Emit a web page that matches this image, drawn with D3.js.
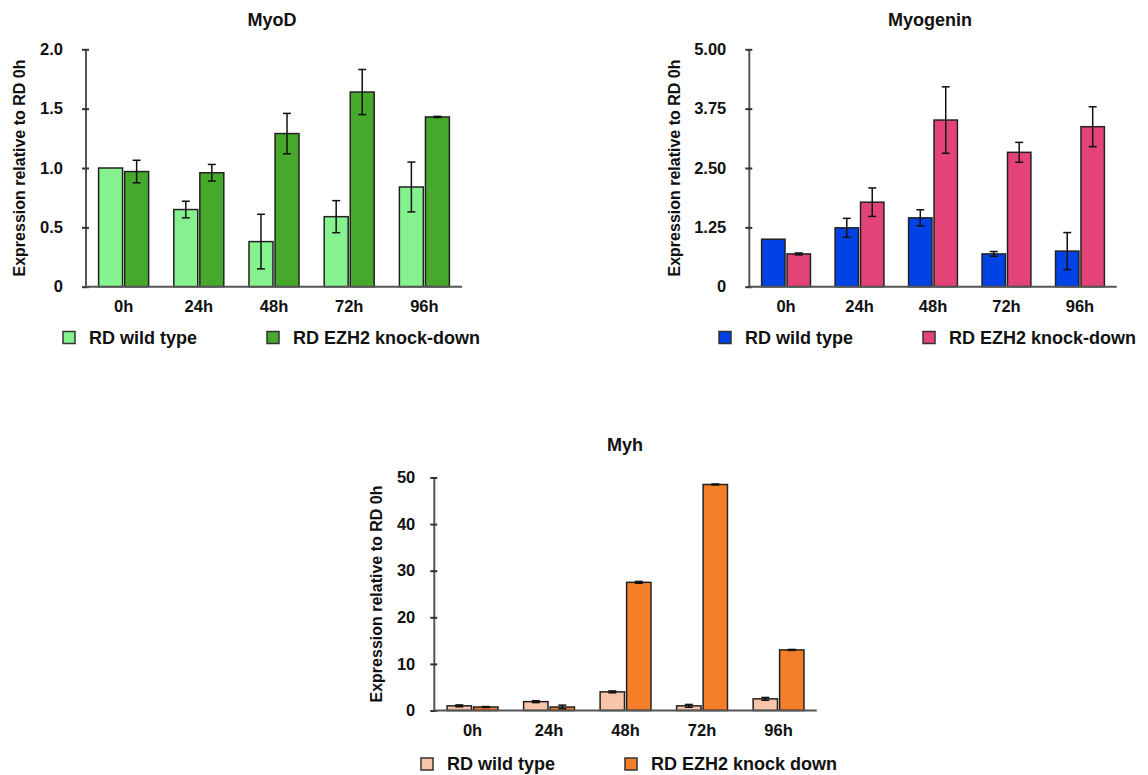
<!DOCTYPE html>
<html>
<head>
<meta charset="utf-8">
<script src="https://cdn.jsdelivr.net/npm/d3@7"></script>
<style>
  html, body { margin: 0; padding: 0; background: #fff; }
  svg text { font-family: "Liberation Sans", Arial, Helvetica, sans-serif; font-weight: bold; fill: #111; }
</style>
</head>
<body>
<svg id="chart" width="1148" height="775"></svg>
<script>
// ---------------- DATA ----------------
const timepoints = ["0h", "24h", "48h", "72h", "96h"];

const myodWildType      = [1.00, 0.65, 0.38, 0.59, 0.84];
const myodWildTypeErr   = [0.00, 0.07, 0.23, 0.135, 0.21];
const myodKnockDown     = [0.97, 0.96, 1.29, 1.64, 1.43];
const myodKnockDownErr  = [0.095, 0.07, 0.17, 0.19, 0.005];
const myodTicks         = [0, 0.5, 1.0, 1.5, 2.0];
const myodTickLabels    = ["0", "0.5", "1.0", "1.5", "2.0"];

const myogWildType      = [1.00, 1.24, 1.45, 0.69, 0.75];
const myogWildTypeErr   = [0.00, 0.20, 0.17, 0.05, 0.39];
const myogKnockDown     = [0.69, 1.78, 3.51, 2.83, 3.37];
const myogKnockDownErr  = [0.02, 0.30, 0.70, 0.21, 0.42];
const myogTicks         = [0, 1.25, 2.5, 3.75, 5.0];
const myogTickLabels    = ["0", "1.25", "2.50", "3.75", "5.00"];

const myhWildType       = [1.0, 1.9, 4.0, 1.0, 2.5];
const myhWildTypeErr    = [0.2, 0.2, 0.2, 0.3, 0.3];
const myhKnockDown      = [0.75, 0.75, 27.5, 48.5, 13.0];
const myhKnockDownErr   = [0.1, 0.4, 0.2, 0.1, 0.1];
const myhTicks          = [0, 10, 20, 30, 40, 50];
const myhTickLabels     = ["0", "10", "20", "30", "40", "50"];

const yAxisTitle = "Expression relative to RD 0h";

// ---------------- DRAW ----------------
const svg = d3.select("#chart");

function drawChart(cfg) {
  const g = svg.append("g");
  const x = d3.scaleBand().domain(timepoints).range([cfg.x0, cfg.x1]).paddingInner(0.335).paddingOuter(0.1675);
  const inner = d3.scaleBand().domain(["wt", "kd"]).range([0, x.bandwidth()]).paddingInner(0.08);
  const y = d3.scaleLinear().domain([0, cfg.yMax]).range([cfg.yBottom, cfg.yTop]);

  // title
  g.append("text").attr("x", cfg.titleX).attr("y", cfg.titleY)
    .attr("text-anchor", "middle").attr("dominant-baseline", "central")
    .style("font-size", "18px").text(cfg.title);

  // y axis title
  g.append("text")
    .attr("transform", `translate(${cfg.axisTitleX},${(cfg.yTop + cfg.yBottom) / 2}) rotate(-90)`)
    .attr("text-anchor", "middle").attr("dominant-baseline", "central")
    .style("font-size", "16px").text(yAxisTitle);

  // bars
  const series = [
    { key: "wt", values: cfg.wt, errs: cfg.wtErr, color: cfg.wtColor },
    { key: "kd", values: cfg.kd, errs: cfg.kdErr, color: cfg.kdColor }
  ];
  series.forEach(s => {
    const sg = g.append("g");
    sg.selectAll("rect").data(timepoints).join("rect")
      .attr("x", (d) => x(d) + inner(s.key))
      .attr("width", inner.bandwidth())
      .attr("y", (d, i) => y(s.values[i]))
      .attr("height", (d, i) => y(0) - y(s.values[i]))
      .attr("fill", s.color).attr("stroke", "#222").attr("stroke-width", 1.5);
    // error bars
    timepoints.forEach((d, i) => {
      const e = s.errs[i];
      if (!e) return;
      const cx = x(d) + inner(s.key) + inner.bandwidth() / 2;
      const hi = y(s.values[i] + e), lo = y(s.values[i] - e);
      sg.append("line").attr("x1", cx).attr("x2", cx).attr("y1", hi).attr("y2", lo)
        .attr("stroke", "#111").attr("stroke-width", 1.5);
      [hi, lo].forEach(yy => sg.append("line").attr("x1", cx - 4).attr("x2", cx + 4)
        .attr("y1", yy).attr("y2", yy).attr("stroke", "#111").attr("stroke-width", 1.5));
    });
  });

  // y axis
  const yAxis = d3.axisLeft(y).tickValues(cfg.ticks).tickFormat((d, i) => cfg.tickLabels[i])
    .tickSize(cfg.tickMarks ? 4 : 0).tickPadding(19);
  const ya = g.append("g").attr("transform", `translate(${cfg.x0},0)`).call(yAxis);
  ya.select(".domain").attr("stroke", "#555").attr("stroke-width", 2)
    .attr("d", `M0,${cfg.yTop}V${cfg.yBottom}`);
  ya.selectAll(".tick line").attr("stroke", "#333").attr("stroke-width", 2)
    .attr("x1", 3).attr("x2", -4);
  ya.selectAll(".tick text").style("font-size", "16.5px").style("font-family", "Liberation Sans, Arial, sans-serif").style("font-weight", "bold").attr("fill", "#111");

  // x axis
  const xAxis = d3.axisBottom(x).tickSize(0).tickPadding(14);
  const xa = g.append("g").attr("transform", `translate(0,${cfg.yBottom})`).call(xAxis);
  xa.select(".domain").attr("stroke", "#555").attr("stroke-width", 2)
    .attr("d", `M${cfg.x0},0H${cfg.x1}`);
  xa.selectAll(".tick text").style("font-size", "16.5px").style("font-family", "Liberation Sans, Arial, sans-serif").style("font-weight", "bold").attr("fill", "#111");

  // legend
  const leg = [
    { label: cfg.wtLabel, color: cfg.wtColor, x: cfg.legX[0] },
    { label: cfg.kdLabel, color: cfg.kdColor, x: cfg.legX[1] }
  ];
  leg.forEach(l => {
    g.append("rect").attr("x", l.x).attr("y", cfg.legY - 6).attr("width", 12).attr("height", 12)
      .attr("fill", l.color).attr("stroke", "#333").attr("stroke-width", 1.5);
    g.append("text").attr("x", l.x + 26).attr("y", cfg.legY).attr("dominant-baseline", "central")
      .style("font-size", "18px").text(l.label);
  });
}

drawChart({
  title: "MyoD", titleX: 272, titleY: 20,
  x0: 86, x1: 462, yTop: 49.3, yBottom: 286.7, yMax: 2.0,
  ticks: myodTicks, tickLabels: myodTickLabels, tickMarks: true,
  axisTitleX: 19,
  wt: myodWildType, wtErr: myodWildTypeErr, kd: myodKnockDown, kdErr: myodKnockDownErr,
  wtColor: "#86F28F", kdColor: "#46A92B",
  wtLabel: "RD wild type", kdLabel: "RD EZH2 knock-down",
  legX: [63, 267], legY: 337.5
});

drawChart({
  title: "Myogenin", titleX: 930, titleY: 20,
  x0: 749.3, x1: 1116.7, yTop: 49.3, yBottom: 286.7, yMax: 5.0,
  ticks: myogTicks, tickLabels: myogTickLabels, tickMarks: true,
  axisTitleX: 674.3,
  wt: myogWildType, wtErr: myogWildTypeErr, kd: myogKnockDown, kdErr: myogKnockDownErr,
  wtColor: "#0042E6", kdColor: "#E34377",
  wtLabel: "RD wild type", kdLabel: "RD EZH2 knock-down",
  legX: [719, 923], legY: 337.5
});

drawChart({
  title: "Myh", titleX: 625, titleY: 445,
  x0: 434.3, x1: 816.8, yTop: 477.5, yBottom: 710.5, yMax: 50,
  ticks: myhTicks, tickLabels: myhTickLabels, tickMarks: false,
  axisTitleX: 376.7,
  wt: myhWildType, wtErr: myhWildTypeErr, kd: myhKnockDown, kdErr: myhKnockDownErr,
  wtColor: "#F9C5AA", kdColor: "#F57F28",
  wtLabel: "RD wild type", kdLabel: "RD EZH2 knock down",
  legX: [421, 625], legY: 764
});
</script>
</body>
</html>
